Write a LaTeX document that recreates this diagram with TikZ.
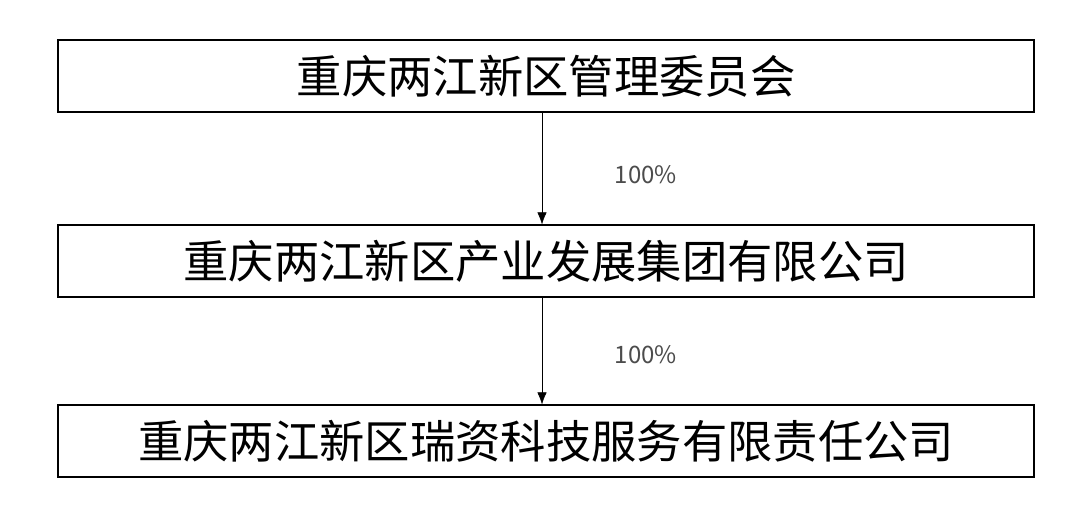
\documentclass[tikz,border=0pt]{standalone}
\usepackage{fontspec}
\setmainfont{Noto Sans CJK SC}
\usetikzlibrary{positioning,arrows.meta}
\tikzset{
  entity/.style={draw, thick, minimum width=976*0.75pt, minimum height=72*0.75pt,
    font=\fontsize{34}{38}\selectfont, inner sep=0pt},
  share/.style={font=\fontsize{18}{20}\selectfont, text=black!70},
  link/.style={-{Latex[length=9pt,width=7pt]}}
}
\begin{document}
\begin{tikzpicture}[x=0.75pt,y=-0.75pt]
\useasboundingbox (0,0) rectangle (1074,508);
\node[entity] (gov) at (546,76) {重庆两江新区管理委员会};
\node[entity] (group) at (546,261) {重庆两江新区产业发展集团有限公司};
\node[entity] (ruizi) at (546,441) {重庆两江新区瑞资科技服务有限责任公司};
\draw[link] (gov.south -| 542,0) -- (group.north -| 542,0);
\draw[link] (group.south -| 542,0) -- (ruizi.north -| 542,0);
\node[share] (s1) at (646,175) {100\%};
\node[share] (s2) at (646,355) {100\%};
\end{tikzpicture}
\end{document}
